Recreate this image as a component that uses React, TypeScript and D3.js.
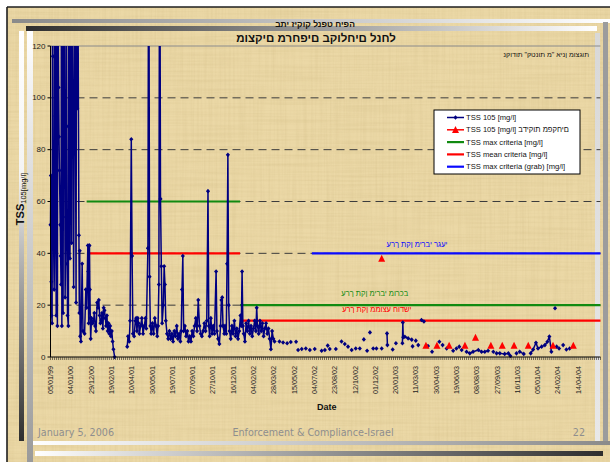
import React from 'react';
import * as d3 from 'd3';

// ---------- DATA ----------
// Category axis: one category per sampling day; a label every 50 categories
const tickLabels = [
  '05/01/99', '04/01/00', '29/12/00', '19/02/01', '10/04/01', '30/05/01', '19/07/01',
  '07/09/01', '27/10/01', '16/12/01', '04/02/02', '28/03/02', '15/05/02', '04/07/02',
  '23/08/02', '12/10/02', '01/12/02', '20/01/03', '11/03/03', '30/04/03', '19/06/03',
  '08/08/03', '27/09/03', '16/11/03', '05/01/04', '24/02/04', '14/04/04',
];
const categoriesPerLabel = 50;
const lastCategory = 1355;
const yTicks = [0, 20, 40, 60, 80, 100, 120];

// TSS 105 [mg/l] — [category, value]
const tss1999to2001: [number, number][] = [
  [0, 51], [1, 70], [2, 29], [3, 16], [4, 13], [5, 180], [6, 116], [7, 53], [9, 26], [10, 42],
  [11, 200], [12, 93], [13, 76], [14, 16], [15, 160], [17, 12], [18, 150], [20, 104], [21, 85],
  [22, 72], [24, 51], [25, 39], [26, 28], [27, 170], [28, 12], [30, 140], [31, 17], [33, 200],
  [36, 23], [38, 54], [39, 180], [40, 89], [41, 36], [42, 16], [44, 12], [45, 140], [48, 38],
  [50, 190], [52, 44], [53, 160], [56, 78], [57, 27], [60, 170], [63, 21], [64, 150], [66, 96],
  [68, 130], [70, 47], [71, 17], [72, 41], [73, 8], [75, 6], [78, 36], [80, 10], [84, 9],
  [87, 26], [89, 19], [92, 43], [93, 33], [94, 13], [95, 43], [96, 43], [97, 26], [98, 15],
  [99, 7], [101, 15], [104, 13], [106, 14], [108, 17], [110, 12], [112, 10], [115, 21],
  [117, 19], [119, 22], [121, 16], [123, 13], [125, 14], [127, 17], [129, 11], [131, 19],
  [133, 18], [135, 15], [137, 12], [139, 16], [141, 10], [143, 13], [145, 9], [147, 12],
  [149, 8], [151, 10], [153, 6], [155, 3], [158, 0],
];
const tss2001to2002: [number, number][] = [
  [189, 4], [191, 8], [194, 6], [196, 14], [199, 84], [201, 39], [203, 9], [206, 8], [209, 14],
  [211, 15], [213, 10], [215, 15], [217, 13], [219, 9], [222, 12], [225, 15], [228, 9], [231, 12],
  [234, 15], [236, 11], [240, 42], [242, 200], [244, 31], [246, 12], [248, 9], [251, 13], [254, 9],
  [257, 15], [260, 12], [263, 8], [265, 12], [267, 28], [269, 200], [271, 61], [273, 35], [275, 13],
  [278, 20], [280, 35], [282, 28], [284, 14], [287, 9], [290, 7], [293, 10], [296, 7], [299, 9],
  [302, 6], [305, 10], [308, 8], [311, 12], [314, 7], [317, 9], [320, 6], [322, 10], [324, 26],
  [326, 39], [328, 10], [331, 12], [334, 8], [337, 10], [340, 6], [343, 8], [346, 6], [349, 10],
  [352, 8], [355, 12], [358, 15], [361, 10], [364, 22], [367, 12], [370, 9], [373, 8], [376, 10],
  [379, 13], [382, 10], [385, 14], [388, 64], [390, 12], [392, 8], [395, 15], [398, 9], [401, 12],
  [404, 9], [408, 33], [410, 10], [413, 7], [416, 5], [419, 12], [421, 22], [423, 23], [425, 12],
  [428, 9], [430, 12], [433, 9], [435, 36], [437, 78], [439, 20], [441, 10], [444, 7], [447, 12],
  [450, 9], [453, 14], [456, 8], [459, 11], [462, 7], [465, 10], [468, 16], [470, 12], [472, 33],
  [474, 12], [476, 9], [479, 6], [482, 13], [485, 10], [488, 14], [491, 9], [494, 12], [497, 8],
  [500, 11], [503, 14], [506, 10], [508, 19], [510, 12], [513, 9], [516, 14], [519, 10], [522, 13],
  [525, 8], [528, 11], [531, 13], [534, 9], [537, 11], [540, 7], [543, 3], [546, 10], [549, 7],
  [552, 6],
];
const tssSparseRuns: [number, number][][] = [
  [[564, 6.0]], [[573, 5.6]], [[583, 5.3]], [[592, 5.8]], [[605, 5.9]], [[610, 2.7]], [[619, 3.1]],
  [[629, 3.3]], [[639, 2.7]], [[651, 3.1]], [[668, 2.4]], [[676, 2.7]], [[683, 4.4]], [[688, 3.1]],
  [[703, 3.1]], [[717, 6.0]], [[725, 5.0]], [[733, 4.0]], [[742, 2.7]], [[752, 3.3]], [[762, 3.3]],
  [[772, 6.8]], [[780, 2.4]], [[787, 9.5]], [[795, 3.3]], [[803, 3.3]], [[816, 3.3]],
  [[829, 9.1], [830, 4.6]], [[843, 2.9]], [[851, 5.3]], [[867, 5.3], [868, 13.3], [869, 7.6]],
  [[873, 7.8], [881, 7.2], [890, 6.7]], [[892, 4.1]], [[900, 6.3]], [[906, 4.6]],
  [[914, 14.3], [920, 13.7]], [[930, 4.2]], [[940, 2.0]], [[958, 5.9]], [[966, 4.6]], [[976, 3.3]],
  [[992, 2.4]], [[1000, 3.3]], [[1007, 4.0]], [[1013, 2.7]],
  [[1025, 2.0], [1033, 1.4], [1041, 2.0], [1054, 2.7], [1062, 2.0], [1070, 2.0], [1078, 2.4]],
  [[1091, 2.0]], [[1099, 1.4], [1107, 1.4], [1119, 1.2], [1128, 1.4], [1133, 0.4]], [[1148, 1.4]],
  [[1156, 2.0], [1166, 1.2]],
  [[1183, 1.4], [1189, 2.9], [1196, 5.5], [1201, 3.3], [1210, 4.0], [1218, 4.6], [1224, 5.9], [1229, 7.9], [1234, 2.0]],
  [[1243, 18.8]], [[1247, 4.0]], [[1253, 3.3]], [[1263, 4.6]], [[1271, 2.9]], [[1279, 3.3]],
];
// TSS 105 – inspectors' samples
const inspectorsCat = [816, 925, 952, 982, 1021, 1047, 1085, 1113, 1142, 1177, 1238, 1288];
const inspectorsVal = [38, 4.4, 4.4, 4.4, 4.4, 7.5, 4.4, 4.4, 4.4, 4.4, 4.4, 4.4];
// Criteria (step segments)
const maxCritFrom = [89, 467];
const maxCritTo = [467, 1355];
const maxCritVal = [60, 20];
const meanCritFrom = [91, 467];
const meanCritTo = [467, 1355];
const meanCritVal = [40, 14];
const grabCritFrom = [644];
const grabCritTo = [1355];
const grabCritVal = [40];

const legendLabels = [
  'TSS 105 [mg/l]',
  'TSS 105 [mg/l] בדיקות מפקחים',
  'TSS max criteria [mg/l]',
  'TSS mean criteria [mg/l]',
  'TSS max criteria (grab) [mg/l]',
];

const NAVY = '#000080';
const RED = '#ff0000';
const GREEN = '#118a11';
const BLUE = '#0a0aff';
const SANS = '"Liberation Sans", Arial, sans-serif';
// the source shows its Hebrew laid out left-to-right (visual order)
const VIS: React.CSSProperties = { direction: 'ltr', unicodeBidi: 'bidi-override' };

export default function App() {
  const W = 610, H = 462;
  const left = 50.5, right = 600.5, top = 46, bottom = 357;
  const x = d3.scaleLinear().domain([0, lastCategory]).range([left, right]);
  const y = d3.scaleLinear().domain([0, 120]).range([bottom, top]);
  const line = d3.line<[number, number]>().x(d => x(d[0])).y(d => y(d[1]));
  const runs = [tss1999to2001, tss2001to2002, ...tssSparseRuns];
  const allPts = runs.flat();
  const diamond = (cx: number, cy: number, r: number) =>
    `M${cx},${cy - r}L${cx + r * 0.9},${cy}L${cx},${cy + r}L${cx - r * 0.9},${cy}Z`;
  const tri = (cx: number, cy: number, s: number) =>
    `M${cx},${cy - s * 0.55}L${cx + s / 2},${cy + s * 0.45}L${cx - s / 2},${cy + s * 0.45}Z`;

  const minor = d3.range(0, lastCategory + 1, 5);

  const segs = (from: number[], to: number[], val: number[], color: string, key: string) =>
    from.map((f, i) => (
      <line key={key + i} x1={x(f)} x2={x(to[i])} y1={y(val[i])} y2={y(val[i])}
        stroke={color} strokeWidth={2.2} />
    ));

  const legendX = 434, legendY = 110, legendW = 146, legendH = 64;
  const rowY = (i: number) => legendY + 7.5 + i * 12.3;

  return (
    <svg width={W} height={H} style={{ position: 'absolute', left: 0, top: 0 }}
      fontFamily={SANS}>
      <defs>
        <linearGradient id="bar1" x1="0" x2="1" y1="0" y2="0">
          <stop offset="0" stopColor="#8a8a8a" /><stop offset="1" stopColor="#ffffff" />
        </linearGradient>
        <linearGradient id="bar2" x1="0" x2="1" y1="0" y2="0">
          <stop offset="0" stopColor="#2e2e2e" /><stop offset="1" stopColor="#ffffff" />
        </linearGradient>
        <linearGradient id="bar3" x1="0" x2="1" y1="0" y2="0">
          <stop offset="0" stopColor="#ffffff" /><stop offset="1" stopColor="#8a8a8a" />
        </linearGradient>
        <linearGradient id="bar4" x1="0" x2="1" y1="0" y2="0">
          <stop offset="0" stopColor="#ffffff" /><stop offset="1" stopColor="#2e2e2e" />
        </linearGradient>
        <linearGradient id="stripA" x1="0" x2="0" y1="0" y2="1">
          <stop offset="0" stopColor="#ffffff" /><stop offset="0.35" stopColor="#f4f4f4" />
          <stop offset="1" stopColor="#2e2e2e" />
        </linearGradient>
        <linearGradient id="stripB" x1="0" x2="0" y1="0" y2="1">
          <stop offset="0" stopColor="#ffffff" /><stop offset="1" stopColor="#9a9a9a" />
        </linearGradient>
        <linearGradient id="stripC" x1="0" x2="0" y1="0" y2="1">
          <stop offset="0" stopColor="#d8d8d8" /><stop offset="1" stopColor="#e8e8e8" />
        </linearGradient>
        <filter id="fibersH" x="0" y="0" width="100%" height="100%">
          <feTurbulence type="fractalNoise" baseFrequency="0.012 0.45" numOctaves={2} seed={3} />
          <feColorMatrix type="matrix"
            values="0 0 0 0 0.55  0 0 0 0 0.42  0 0 0 0 0.18  0 0 0 -1.6 1.0" />
        </filter>
        <filter id="fibersV" x="0" y="0" width="100%" height="100%">
          <feTurbulence type="fractalNoise" baseFrequency="0.45 0.012" numOctaves={2} seed={7} />
          <feColorMatrix type="matrix"
            values="0 0 0 0 0.55  0 0 0 0 0.42  0 0 0 0 0.18  0 0 0 -1.6 1.0" />
        </filter>
        <clipPath id="plotClip">
          <rect x={left - 4} y={top} width={right - left + 8} height={bottom - top + 5} />
        </clipPath>
      </defs>

      {/* page + slide background */}
      <rect x={0} y={0} width={W} height={H} fill="#ffffff" />
      <rect x={7} y={7} width={W - 7} height={H - 7} fill="#ebd8a6" />
      <rect x={7} y={7} width={W - 7} height={H - 7} filter="url(#fibersH)" opacity={0.22} />
      <rect x={7} y={7} width={W - 7} height={H - 7} filter="url(#fibersV)" opacity={0.18} />
      <line x1={7} y1={7} x2={W} y2={7} stroke="#1e1e1e" strokeWidth={1.6} />
      <line x1={7} y1={7} x2={7} y2={H} stroke="#1e1e1e" strokeWidth={1.6} />

      {/* decorative bars */}
      <rect x={12} y={19} width={598} height={4} fill="url(#bar1)" />
      <rect x={26} y={26} width={571} height={5} fill="url(#bar2)" />
      <rect x={19} y={31} width={5} height={410} fill="url(#stripA)" />
      <rect x={27} y={31} width={6} height={431} fill="url(#stripB)" />
      <rect x={595} y={33} width={5} height={408} fill="url(#stripC)" />
      <rect x={603} y={22} width={5} height={419} fill="#9c9c9c" />
      <rect x={33} y={441} width={577} height={4} fill="url(#bar3)" />
      <rect x={35} y={451} width={568} height={5} fill="url(#bar4)" />

      {/* titles */}
      <text x={315} y={27} textAnchor="middle" fontSize={8.5} fontWeight="bold" fill="#111" style={VIS}>
        בתי זיקוק לנפט חיפה
      </text>
      <text x={316} y={42} textAnchor="middle" fontSize={11.5} fontWeight="bold" fill="#111" style={VIS}>
        מוצקים מרחפים בקולחים לנחל
      </text>
      <text x={589} y={57} textAnchor="end" fontSize={7} fill="#111" style={VIS}>
        נקודות "קטנות מ" אינן מוצגות
      </text>

      {/* gridlines */}
      {yTicks.filter(t => t > 0 && t < 120).map(t => (
        <line key={'g' + t} x1={left} x2={right} y1={y(t)} y2={y(t)}
          stroke="#3c3c3c" strokeWidth={1} strokeDasharray="8 5" />
      ))}
      <line x1={left} x2={right} y1={y(120)} y2={y(120)} stroke="#8a8a8a" strokeWidth={1} />

      {/* criteria lines */}
      {segs(maxCritFrom, maxCritTo, maxCritVal, GREEN, 'mx')}
      {segs(meanCritFrom, meanCritTo, meanCritVal, RED, 'mn')}
      {segs(grabCritFrom, grabCritTo, grabCritVal, BLUE, 'gb')}

      {/* criteria labels */}
      <text x={x(903)} y={y(40) - 6} textAnchor="middle" fontSize={7.5} fill={BLUE} style={VIS}>
        ערך תקן מירבי רגעי
      </text>
      <text x={x(799)} y={y(20) - 9} textAnchor="middle" fontSize={7.5} fill={GREEN} style={VIS}>
        ערך תקן מירבי מורכב
      </text>
      <text x={x(804)} y={y(14) - 9} textAnchor="middle" fontSize={7.5} fill={RED} style={VIS}>
        ערך תקן ממוצע חודשי
      </text>

      {/* TSS series */}
      <g clipPath="url(#plotClip)">
        {runs.filter(r => r.length > 1).map((r, i) => (
          <path key={'r' + i} d={line(r) || ''} fill="none" stroke={NAVY} strokeWidth={1.5}
            strokeLinejoin="round" />
        ))}
        {allPts.map((p, i) => (
          <path key={'m' + i} d={diamond(x(p[0]), y(p[1]), 2.3)} fill={NAVY} />
        ))}
        {inspectorsCat.map((c, i) => (
          <path key={'t' + i} d={tri(x(c), y(inspectorsVal[i]), 7)} fill={RED} />
        ))}
      </g>

      {/* axes */}
      <line x1={left} x2={left} y1={top} y2={bottom} stroke="#000" strokeWidth={1} />
      <line x1={left} x2={right} y1={bottom} y2={bottom} stroke="#000" strokeWidth={1.2} />
      {minor.map(c => (
        <line key={'mt' + c} x1={x(c)} x2={x(c)} y1={bottom} y2={bottom + 3}
          stroke="#222" strokeWidth={0.6} />
      ))}
      {yTicks.map(t => (
        <g key={'yt' + t}>
          <line x1={left - 3} x2={left} y1={y(t)} y2={y(t)} stroke="#000" strokeWidth={1} />
          <text x={left - 5} y={y(t)} dy="0.33em" textAnchor="end" fontSize={8} fill="#222">{t}</text>
        </g>
      ))}
      {tickLabels.map((lab, k) => (
        <text key={'xl' + k} transform={`translate(${x(k * categoriesPerLabel) + 2.6},366) rotate(-90)`}
          textAnchor="end" fontSize={7.2} fill="#222">{lab}</text>
      ))}
      <text x={317} y={410} fontSize={9} fontWeight="bold" fill="#111">Date</text>
      <text transform="translate(24,199) rotate(-90)" textAnchor="middle" fill="#111">
        <tspan fontSize={11} fontWeight="bold">TSS</tspan>
        <tspan fontSize={7.5} dy={2}>105[mg/l]</tspan>
      </text>

      {/* legend */}
      <rect x={legendX} y={legendY} width={legendW} height={legendH} fill="#ffffff"
        stroke="#000" strokeWidth={1} />
      {legendLabels.map((lab, i) => {
        const ry = rowY(i);
        const colors = [NAVY, RED, GREEN, RED, BLUE];
        return (
          <g key={'lg' + i}>
            <line x1={447} x2={464} y1={ry} y2={ry} stroke={colors[i]} strokeWidth={i < 2 ? 1.5 : 2.2} />
            {i === 0 && <path d={diamond(455.5, ry, 2.3)} fill={NAVY} />}
            {i === 1 && <path d={tri(455.5, ry, 7)} fill={RED} />}
            <text x={466} y={ry} dy="0.33em" fontSize={7.6} fill="#111" style={VIS}>{lab}</text>
          </g>
        );
      })}

      {/* footer */}
      <text x={38} y={436} fontSize={9.6} fill="#8e8e8e" fontFamily='"DejaVu Sans", sans-serif'>January 5, 2006</text>
      <text x={313} y={436} textAnchor="middle" fontSize={9.6} fill="#8e8e8e" fontFamily='"DejaVu Sans", sans-serif'>Enforcement &amp; Compliance-Israel</text>
      <text x={585} y={436} textAnchor="end" fontSize={9.6} fill="#8e8e8e" fontFamily='"DejaVu Sans", sans-serif'>22</text>
    </svg>
  );
}
